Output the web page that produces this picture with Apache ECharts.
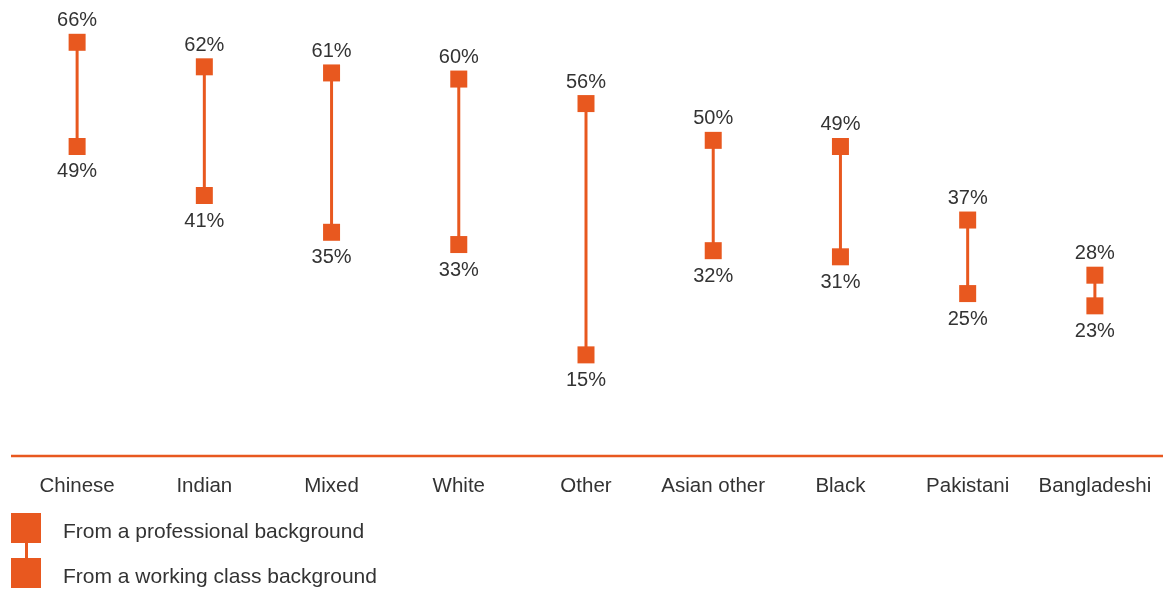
<!DOCTYPE html>
<html><head><meta charset="utf-8">
<script src="https://cdn.jsdelivr.net/npm/echarts@6/dist/echarts.min.js"></script>
<style>html,body{margin:0;padding:0;background:#fff}#c{width:1163px;height:590px}</style>
</head><body><div id="c"></div>
<script>
const categories = ['Chinese','Indian','Mixed','White','Other','Asian other','Black','Pakistani','Bangladeshi'];
const professional = [66,62,61,60,56,50,49,37,28];
const workingClass = [49,41,35,33,15,32,31,25,23];
const seriesNames = ['From a professional background','From a working class background'];

const ORANGE = '#E8581F';
const FONT = 'Liberation Sans';
const legendText = {color:'#333',fontSize:21,fontFamily:FONT,padding:[0,0,0,17],
  rich:{t:{color:'#333',fontSize:21,fontFamily:FONT,padding:[8,0,0,0]}}};
const chart = echarts.init(document.getElementById('c'));
chart.setOption({
  animation:false,
  textStyle:{fontFamily:FONT},
  grid:{left:13.5,right:4.5,top:0,bottom:134},
  xAxis:{type:'category',data:categories,
    axisLine:{show:false},axisTick:{show:false},
    axisLabel:{interval:0,color:'#333',fontSize:20.5,margin:20,fontFamily:FONT}},
  yAxis:{type:'value',min:-1.5,max:72.9,show:false,splitLine:{show:false}},
  legend:[
    {orient:'vertical',left:11,top:513,padding:0,itemWidth:30,itemHeight:30,
     icon:'rect',textStyle:legendText,formatter:n=>'{t|'+n+'}',data:[seriesNames[0]],selectedMode:false},
    {orient:'vertical',left:11,top:558,padding:0,itemWidth:30,itemHeight:30,
     icon:'rect',textStyle:legendText,formatter:n=>'{t|'+n+'}',data:[seriesNames[1]],selectedMode:false}
  ],
  graphic:[
    {type:'line',shape:{x1:11,y1:456,x2:1163,y2:456},style:{stroke:ORANGE,lineWidth:2.5},z:10},
    {type:'rect',shape:{x:25,y:542,width:3,height:17},style:{fill:ORANGE},z:10}
  ],
  series:[
    {type:'custom',
     data:categories.map((c,i)=>[i,professional[i],workingClass[i]]),
     renderItem:function(params,api){
       const a=api.coord([api.value(0),api.value(1)]);
       const b=api.coord([api.value(0),api.value(2)]);
       return {type:'line',shape:{x1:a[0],y1:a[1],x2:b[0],y2:b[1]},style:{stroke:ORANGE,lineWidth:3}};
     },z:1,silent:true},
    {name:seriesNames[0],type:'scatter',symbol:'rect',symbolSize:17,data:professional,
     itemStyle:{color:ORANGE,opacity:1},z:3,
     label:{show:true,position:'top',distance:3,formatter:'{c}%',color:'#333',fontSize:20,fontFamily:FONT}},
    {name:seriesNames[1],type:'scatter',symbol:'rect',symbolSize:17,data:workingClass,
     itemStyle:{color:ORANGE,opacity:1},z:3,
     label:{show:true,position:'bottom',distance:7,formatter:'{c}%',color:'#333',fontSize:20,fontFamily:FONT}}
  ]
});
</script></body></html>
